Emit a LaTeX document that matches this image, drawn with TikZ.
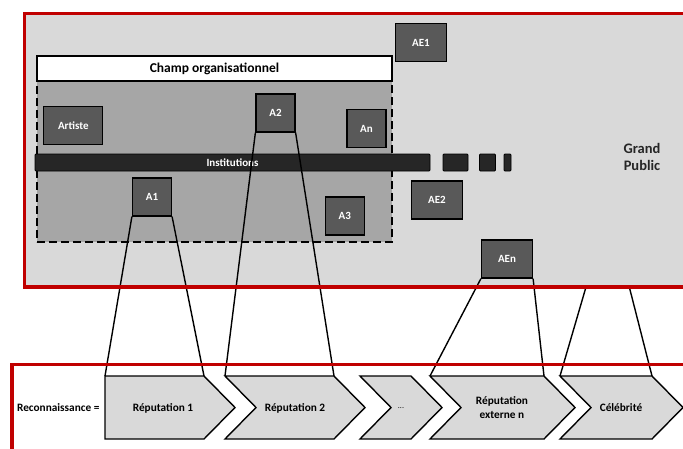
\documentclass[tikz,border=0pt]{standalone}
\usepackage{fontspec}
\setmainfont{Carlito}
\usepackage{tikz}
\definecolor{rougecadre}{RGB}{192,0,0}
\definecolor{fondgris}{RGB}{217,217,217}
\definecolor{zonegris}{RGB}{166,166,166}
\definecolor{boitegris}{RGB}{89,89,89}
\definecolor{barregris}{RGB}{38,38,38}

\begin{document}
\begin{tikzpicture}[
		x=1pt, y=-1pt,
		acteur/.style={draw, line width=1.2pt, fill=boitegris, text=white,
			font=\fontsize{11}{13}\selectfont\bfseries,
			minimum width=39pt, minimum height=38pt, inner sep=0pt},
		large/.style={acteur, minimum width=51pt},
		barre/.style={draw, line width=0.8pt, fill=barregris, rounded corners=1pt,
			minimum height=17pt, inner sep=0pt, text=white,
			font=\fontsize{11}{13}\selectfont\bfseries},
		chevron/.style={draw, line width=1.4pt, fill=fondgris, miter limit=10},
		etiquette/.style={font=\fontsize{11.3}{14}\selectfont\bfseries, align=center},
		lien/.style={line width=1.4pt},
		cadre/.style={draw=rougecadre, line width=3.6pt}]
		\clip (0,0) rectangle (683,448);

		% fonds
		\fill[fondgris] (24.5,13.3) rectangle (700,287);
		\node[draw, line width=1.5pt, dash pattern=on 8pt off 4pt, fill=zonegris,
			minimum width=355pt, minimum height=161pt, inner sep=0pt] (zone) at (214.5,161.5) {};
		\node[draw, line width=1.2pt, fill=white, minimum width=355pt, minimum height=25pt,
			font=\fontsize{13.5}{15}\selectfont\bfseries] (champ) at (214.5,68.5) {Champ organisationnel};

		% institutions
		\node[barre, minimum width=395pt] (inst)  at (232.5,162.5) {Institutions};
		\node[barre, minimum width=25pt]  (inst2) at (455.5,162.5) {};
		\node[barre, minimum width=16pt]  (inst3) at (487.5,162.5) {};
		\node[barre, minimum width=7pt]   (inst4) at (507.5,162.5) {};

		% acteurs
		\node[acteur, minimum width=59pt] (artiste) at (73.3,125.5) {Artiste};
		\node[acteur] (A2) at (275.5,113) {A2};
		\node[acteur] (An) at (366.5,128.5) {An};
		\node[acteur] (A1) at (152,197) {A1};
		\node[acteur] (A3) at (344.8,216) {A3};
		\node[large] (AE1) at (421,42.5) {AE1};
		\node[large] (AE2) at (437,200) {AE2};
		\node[large] (AEn) at (507,259) {AEn};
		\node[etiquette, font=\fontsize{14.5}{17}\selectfont\bfseries, text=barregris] (public) at (642,157) {Grand\\Public};
		\coordinate (gpa) at (586,287);
		\coordinate (gpb) at (629.3,287);

		% reputations
		\node[etiquette, anchor=east] (reco) at (103,408) {Reconnaissance =};
		\draw[chevron] (105,376) coordinate (r1nw) -- (204,376) coordinate (r1ne) -- (235,407.5) -- (204,439) -- (105,439) -- cycle;
		\draw[chevron] (225,376) coordinate (r2nw) -- (334,376) coordinate (r2ne) -- (365,407.5) -- (334,439) -- (225,439) -- (256,407.5) -- cycle;
		\draw[chevron] (360,376) coordinate (r3nw) -- (411,376) coordinate (r3ne) -- (442,407.5) -- (411,439) -- (360,439) -- (391,407.5) -- cycle;
		\draw[chevron] (430,376) coordinate (r4nw) -- (544,376) coordinate (r4ne) -- (575,407.5) -- (544,439) -- (430,439) -- (461,407.5) -- cycle;
		\draw[chevron] (560,376) coordinate (r5nw) -- (652,376) coordinate (r5ne) -- (683,407.5) -- (652,439) -- (560,439) -- (591,407.5) -- cycle;
		\node[etiquette] (r1) at (163,408) {Réputation 1};
		\node[etiquette] (r2) at (295,408) {Réputation 2};
		\node[etiquette, font=\fontsize{8}{10}\selectfont] (r3) at (401,408) {...};
		\node[etiquette] (r4) at (502,408) {Réputation\\externe n};
		\node[etiquette] (r5) at (621,408) {Célébrité};

		\draw[lien] (A1.south west) -- (r1nw);
		\draw[lien] (A1.south east) -- (r1ne);
		\draw[lien] (A2.south west) -- (r2nw);
		\draw[lien] (A2.south east) -- (r2ne);
		\draw[lien] (AEn.south west) -- (r4nw);
		\draw[lien] (AEn.south east) -- (r4ne);
		\draw[lien] (gpa) -- (r5nw);
		\draw[lien] (gpb) -- (r5ne);

		% cadres
		\draw[cadre] (24.5,13.3) rectangle (700,287);
		\draw[cadre] (12,364.5) rectangle (700,460);
\end{tikzpicture}
\end{document}
